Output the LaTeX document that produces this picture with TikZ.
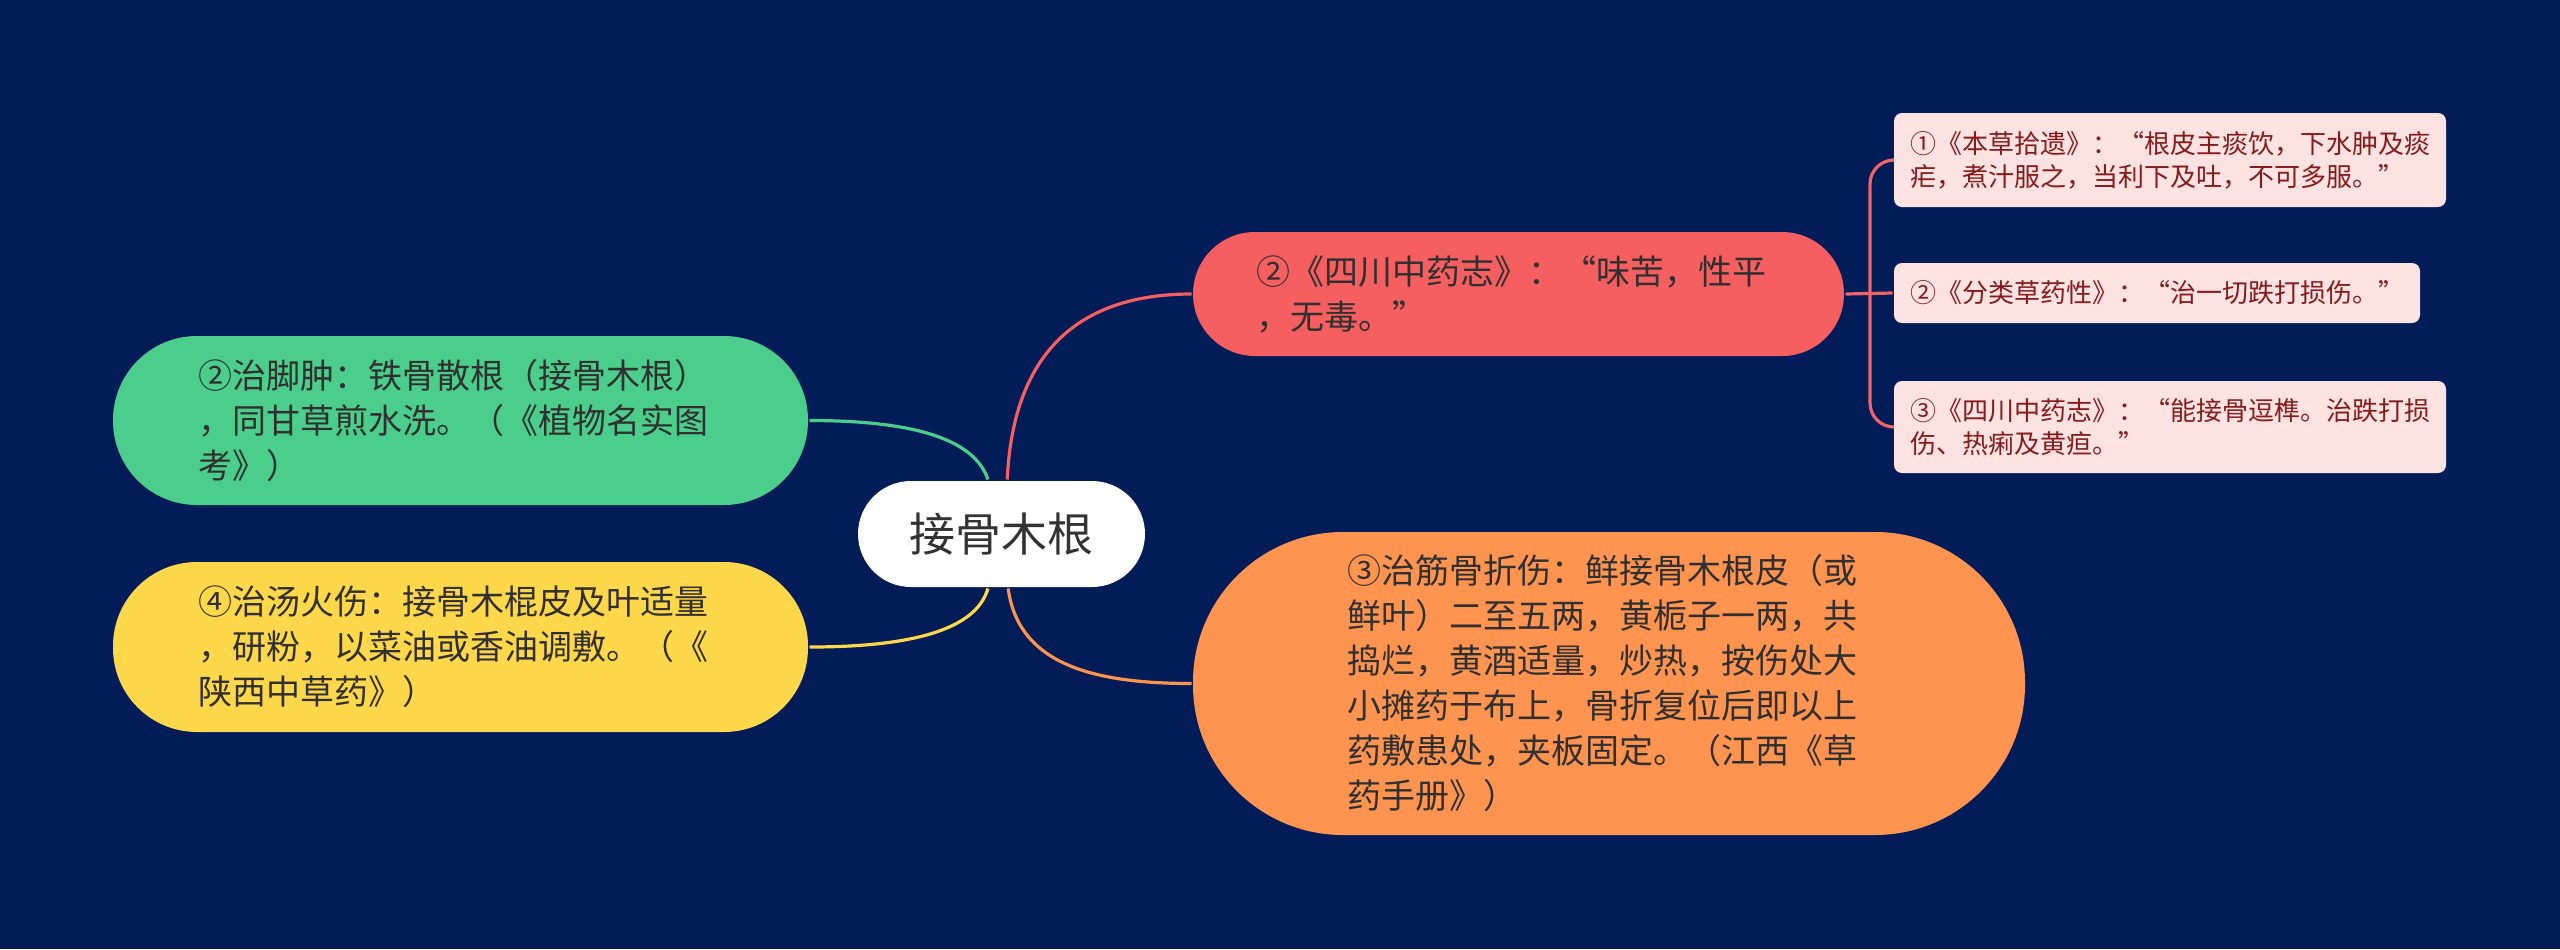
\documentclass[tikz,border=0pt]{standalone}
\usepackage{fontspec}
\setmainfont{Noto Sans CJK SC}
\usetikzlibrary{backgrounds}

\definecolor{bgnavy}{HTML}{021C57}
\definecolor{rootink}{HTML}{333333}
\definecolor{branchink}{HTML}{303030}
\definecolor{redfill}{HTML}{F65F5F}
\definecolor{greenfill}{HTML}{4BCE8C}
\definecolor{yellowfill}{HTML}{FFD74A}
\definecolor{orangefill}{HTML}{FF9451}
\definecolor{leaffill}{HTML}{FDE2E2}
\definecolor{leafink}{HTML}{851B1B}
\definecolor{leafline}{HTML}{EE6468}

\newcommand{\branchfont}{\fontsize{17}{22.5}\selectfont}
\newcommand{\leaffont}{\fontsize{13}{16.5}\selectfont}

\begin{document}
\begin{tikzpicture}[x=0.5pt, y=-0.5pt, line width=1.5pt,
  pill/.style={rectangle, inner sep=0pt, align=left, text width=262pt, text=branchink, font=\branchfont},
  leafbox/.style={rectangle, inner sep=0pt, align=left, fill=leaffill, text=leafink,
    rounded corners=4pt, font=\leaffont},
  link/.style={draw=#1, line width=1.6pt}]
  \useasboundingbox (0,0) rectangle (2560,949);

  \node[rectangle, inner sep=0pt, fill=white, text=rootink, minimum width=143.5pt, minimum height=53pt,
    rounded corners=26.5pt, font=\fontsize{23}{28}\selectfont] (root) at (1001.5,534) {接骨木根};

  \node[pill, fill=redfill, minimum width=325.5pt, minimum height=62pt, rounded corners=31pt]
    (rd) at (1518.5,294) {②《四川中药志》：“味苦，性平\\，无毒。”};
  \node[pill, fill=greenfill, minimum width=347.5pt, minimum height=84.5pt, rounded corners=42pt]
    (gr) at (460.5,420.5) {②治脚肿：铁骨散根（接骨木根）\\，同甘草煎水洗。（《植物名实图\\考》）};
  \node[pill, fill=yellowfill, minimum width=347.5pt, minimum height=85pt, rounded corners=42pt]
    (yl) at (460.5,647) {④治汤火伤：接骨木棍皮及叶适量\\，研粉，以菜油或香油调敷。（《\\陕西中草药》）};
  \node[pill, fill=orangefill, minimum width=416pt, minimum height=151.5pt, rounded corners=75pt]
    (or) at (1609,683.5) {③治筋骨折伤：鲜接骨木根皮（或\\鲜叶）二至五两，黄栀子一两，共\\捣烂，黄酒适量，炒热，按伤处大\\小摊药于布上，骨折复位后即以上\\药敷患处，夹板固定。（江西《草\\药手册》）};

  \node[leafbox, minimum width=276pt, minimum height=47pt] (lf1) at (2170,160)
    {①《本草拾遗》：“根皮主痰饮，下水肿及痰\\疟，煮汁服之，当利下及吐，不可多服。”};
  \node[leafbox, minimum width=263pt, minimum height=30pt] (lf2) at (2157,293)
    {②《分类草药性》：“治一切跌打损伤。”};
  \node[leafbox, minimum width=276pt, minimum height=46pt] (lf3) at (2170,427)
    {③《四川中药志》：“能接骨逗榫。治跌打损\\伤、热痢及黄疸。”};

  \coordinate (fork) at (1870,294);

  \begin{scope}[on background layer]
    \fill[bgnavy] (0,0) rectangle (2560,949);
    \path[link=greenfill] (gr.east) .. controls +(100,0) and +(-14,-42) .. (root.104);
    \path[link=redfill] (root.84) .. controls +(6,-130) and +(-110,0) .. (rd.west);
    \path[link=yellowfill] (yl.east) .. controls +(100,0) and +(-12,42) .. (root.256);
    \path[link=orangefill] (root.277) .. controls +(10,75) and +(-100,0) .. (or.west);
    \path[link=leafline] (rd.east) -- (lf2.west);
    \path[link=leafline, rounded corners=12pt] (lf1.west) -| (fork) |- (lf3.west);
  \end{scope}
\end{tikzpicture}
\end{document}
